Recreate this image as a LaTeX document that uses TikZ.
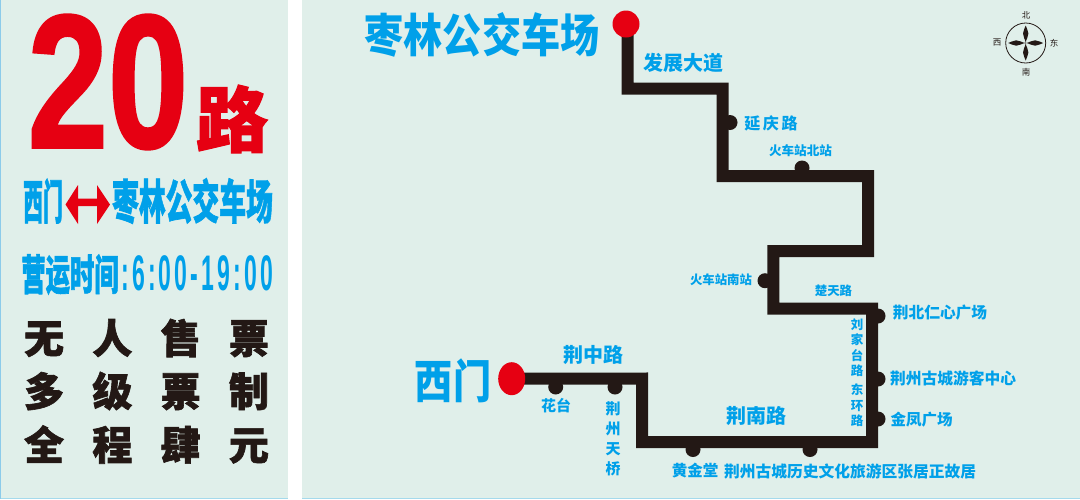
\documentclass[tikz,border=0pt]{standalone}
\usepackage{fontspec}
\usetikzlibrary{backgrounds,shapes.geometric}
\setmainfont{Liberation Sans}
\newfontfamily\cjk{Noto Sans CJK SC}
\newfontfamily\cjkh[BoldFeatures={FakeBold=1.6}]{Noto Sans CJK SC}
\newfontfamily\bigdig[BoldFeatures={FakeBold=1.5}]{Liberation Sans}
\newfontfamily\spdig[BoldFeatures={LetterSpace=14}]{Liberation Sans}
\newcommand{\fz}[1]{\fontsize{#1}{#1}\selectfont}
\definecolor{panelbg}{HTML}{E0EFEA}
\definecolor{edgeblue}{HTML}{A5DAEC}
\definecolor{leftblue}{HTML}{8CCBEA}
\definecolor{textblue}{HTML}{00A0E9}
\definecolor{routeblack}{HTML}{231815}
\definecolor{signred}{HTML}{E60012}
\tikzset{
  lbl/.style={inner sep=0pt,outer sep=0pt,text=textblue,font=\cjk\bfseries},
  heavyblue/.style={inner sep=0pt,outer sep=0pt,text=textblue,font=\cjkh\bfseries},
  heavyblack/.style={inner sep=0pt,outer sep=0pt,text=routeblack,font=\cjkh\bfseries\fz{40}},
  heavyred/.style={inner sep=0pt,outer sep=0pt,text=signred},
  stopdot/.style={circle,fill=routeblack,minimum size=15pt,inner sep=0pt,outer sep=0pt},
  termdot/.style={ellipse,fill=signred,inner sep=0pt,outer sep=0pt},
  routeline/.style={draw=routeblack,line width=12pt,miter limit=10},
  compasslbl/.style={inner sep=0pt,text=routeblack,font=\cjk\fz{8.5}},
}
\begin{document}
\begin{tikzpicture}[x=1pt,y=-1pt]
\useasboundingbox (0,0) rectangle (1080,499);
\begin{pgfonlayer}{background}
  \fill[white] (0,0) rectangle (1080,499);
  \fill[panelbg] (0,0) rectangle (288,499);
  \fill[panelbg] (302,0) rectangle (1080,499);
  \fill[edgeblue] (0,498) rectangle (288,499);
  \fill[edgeblue] (302,498) rectangle (1080,499);
  \fill[leftblue] (0,0) rectangle (1,499);
\end{pgfonlayer}

% left panel
\node[heavyred,font=\bigdig\bfseries\fz{190}] (num) at (108,82) {\scalebox{0.76}[1]{20}};
\node[heavyred,font=\cjkh\bfseries\fz{72}] (lu) at (232,119) {路};
\node[heavyblue,font=\cjkh\bfseries\fz{47}] (xm) at (43,201) {\scalebox{0.42}[1]{西门}};
\node[heavyblue,font=\cjkh\bfseries\fz{47}] (zl) at (192.5,201) {\scalebox{0.57}[1]{枣林公交车场}};
\fill[signred] (65.5,204.5) -- (78,185) -- (78,198.5) -- (97,198.5) -- (97,185) -- (110,204.5) -- (97,224) -- (97,206) -- (78,206) -- (78,224) -- cycle;
\node[heavyblue,font=\cjkh\bfseries\fz{42}] (yy) at (70,274.5) {\scalebox{0.58}[1]{营运时间}};
\node[inner sep=0pt,anchor=west,text=textblue,font=\spdig\bfseries\fz{50}] (tm) at (121,273) {\scalebox{0.46}[1]{:6:00-19:00}};
\node[heavyblack] (r1) at (146.5,338) {无\hspace{28.3pt}人\hspace{28.3pt}售\hspace{28.3pt}票};
\node[heavyblack] (r2) at (146.5,391) {多\hspace{28.3pt}级\hspace{28.3pt}票\hspace{28.3pt}制};
\node[heavyblack] (r3) at (146.5,444.5) {全\hspace{28.3pt}程\hspace{28.3pt}肆\hspace{28.3pt}元};

% terminals and stops
\node[termdot,minimum width=27pt,minimum height=33pt] (west) at (511.7,378.7) {};
\node[termdot,minimum width=27pt,minimum height=27pt] (east) at (626,24) {};
\node[stopdot] (s1) at (730,122.5) {};
\node[stopdot] (s2) at (802,168) {};
\node[stopdot] (s3) at (765,280.7) {};
\node[stopdot] (s4) at (878,316) {};
\node[stopdot] (s5) at (878,379) {};
\node[stopdot] (s6) at (878,419) {};
\node[stopdot] (s7) at (810,449.5) {};
\node[stopdot] (s8) at (693,449.5) {};
\node[stopdot] (s9) at (615,387) {};
\node[stopdot] (s10) at (555.7,387) {};

\begin{pgfonlayer}{background}
\draw[routeline] (west.center) -- (642,378.5) -- (642,442) -- (872,442) -- (872,308.5) -- (773.3,308.5) -- (773.3,251) -- (868,251) -- (868,176) -- (722.7,176) -- (722.7,88.7) -- (627.5,88.7) -- (627.5,24);
\end{pgfonlayer}

% route labels
\node[lbl,font=\cjk\bfseries\fz{46}] (tz) at (482,35) {\scalebox{0.85}[1]{枣林公交车场}};
\node[lbl,font=\cjk\bfseries\fz{46}] (tw) at (453,381) {\scalebox{0.83}[1]{西门}};
\node[lbl,font=\cjk\bfseries\fz{20}] (a1) at (593,354.5) {荆中路};
\node[lbl,font=\cjk\bfseries\fz{15}] (a2) at (556,406) {花台};
\node[lbl,align=center,font=\cjk\bfseries\fontsize{15}{20}\selectfont] (a3) at (613,439) {荆\\州\\天\\桥};
\node[lbl,font=\cjk\bfseries\fz{20}] (a4) at (683,63) {发展大道};
\node[lbl,font=\cjk\bfseries\fz{16}] (a5) at (771,123) {延\hspace{2.7pt}庆\hspace{2.7pt}路};
\node[lbl,font=\cjk\bfseries\fz{12.6}] (a6) at (800.5,151) {火车站北站};
\node[lbl,font=\cjk\bfseries\fz{12.4}] (a7) at (721,280) {火车站南站};
\node[lbl,font=\cjk\bfseries\fz{12.4}] (a8) at (833.5,290.5) {楚天路};
\node[lbl,font=\cjk\bfseries\fz{15.7}] (a9) at (940,313) {荆北仁心广场};
\node[lbl,font=\cjk\bfseries\fz{15.75}] (a10) at (953,378) {荆州古城游客中心};
\node[lbl,font=\cjk\bfseries\fz{15.5}] (a11) at (921.7,419.5) {金凤广场};
\node[lbl,font=\cjk\bfseries\fz{15.5}] (a12) at (695,471) {黄金堂};
\node[lbl,font=\cjk\bfseries\fz{15.75}] (a13) at (850,471) {荆州古城历史文化旅游区张居正故居};
\node[lbl,font=\cjk\bfseries\fz{20}] (a14) at (756,415.5) {荆南路};
\node[lbl,align=center,font=\cjk\bfseries\fontsize{12.5}{15.5}\selectfont] (a15) at (857,372.5) {刘\\家\\台\\路\\[3.5pt]东\\环\\路};

% compass
\draw[routeblack,line width=.8pt] (1025.7,43) circle (20);
\foreach \a in {0,90,180,270}{
  \fill[routeblack,rotate around={\a:(1025.7,43)}] (1025.7,43) .. controls (1026,39) and (1028.6,37) .. (1028.4,33.5) .. controls (1028.2,30) and (1026.3,28) .. (1025.7,25.5) .. controls (1025.1,28) and (1023.2,30) .. (1023,33.5) .. controls (1022.8,37) and (1025.4,39) .. (1025.7,43) -- cycle;
}
\node[compasslbl] (cn) at (1026,15) {北};
\node[compasslbl] (cs) at (1026,72) {南};
\node[compasslbl] (cw) at (997,43) {西};
\node[compasslbl] (ce) at (1054,43) {东};
\end{tikzpicture}
\end{document}
